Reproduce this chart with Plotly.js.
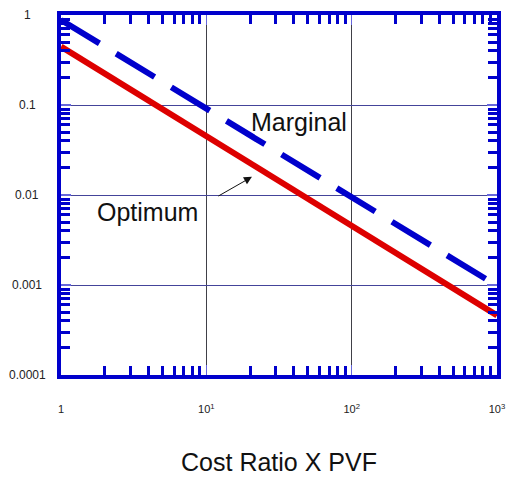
<!DOCTYPE html>
<html>
<head>
<meta charset="utf-8">
<script src="https://cdn.plot.ly/plotly-3.0.1.min.js"></script>
<style>
html,body{margin:0;padding:0;background:#fff;}
#chart{width:513px;height:481px;}
</style>
</head>
<body>
<div id="chart"></div>
<script>
const costRatio = [1, 10, 100, 1000];
const optimum = [0.445, 0.045, 0.00455, 0.00046];
const marginal = [0.88, 0.091, 0.0095, 0.00098];
const yTickVals = [1, 0.1, 0.01, 0.001, 0.0001];
const yTickText = ['1', '0.1', '0.01', '0.001', '0.0001'];
const xTickVals = [1, 10, 100, 1000];
const xTickText = ['1', '10<sup>1</sup>', '10<sup>2</sup>', '10<sup>3</sup>'];
const minorDigits = [2, 3, 4, 5, 6, 7, 8, 9];

const BLUE = '#0000cc';
const RED = '#dd0000';
const FONT = 'Liberation Sans, Arial, sans-serif';

function minorVals(decades) {
  const out = [];
  decades.forEach(d => minorDigits.forEach(k => out.push(k * d)));
  return out;
}
const xMinor = minorVals([1, 10, 100]);
const yMinor = minorVals([0.0001, 0.001, 0.01, 0.1]);

const traces = [
  {x: costRatio, y: optimum, mode: 'lines', name: 'Optimum',
   line: {color: RED, width: 6}},
  {x: costRatio, y: marginal, mode: 'lines', name: 'Marginal',
   line: {color: BLUE, width: 6, dash: '45px,19.6px'}}
];

const yAnn = yTickVals.map((v, i) => ({
  x: 0, xref: 'paper', xanchor: 'center', xshift: -34, yref: 'y', y: Math.log10(v),
  text: yTickText[i], showarrow: false, font: {family: FONT, size: 12, color: '#222'}
}));

const layout = {
  width: 513, height: 481,
  margin: {l: 61, r: 16, t: 15, b: 106},
  paper_bgcolor: '#fff', plot_bgcolor: '#fff',
  showlegend: false,
  font: {family: FONT, color: '#222'},
  xaxis: {
    type: 'log', range: [0, 3],
    tickmode: 'array', tickvals: xTickVals, ticktext: xTickText,
    tickfont: {family: FONT, size: 11, color: '#222'},
    ticks: 'inside', ticklen: 10, tickwidth: 1.5, tickcolor: '#6666dd',
    ticklabelstandoff: 21,
    showline: true, linecolor: BLUE, linewidth: 4, mirror: 'allticks',
    showgrid: true, gridcolor: '#404048', gridwidth: 1,
    zeroline: false,
    minor: {tickmode: 'array', tickvals: xMinor, ticks: 'inside', ticklen: 9, tickwidth: 3, tickcolor: BLUE, showgrid: false},
    title: {text: 'Cost Ratio X PVF', font: {family: FONT, size: 25, color: '#111'}, standoff: 40}
  },
  yaxis: {
    type: 'log', range: [-4, 0],
    tickmode: 'array', tickvals: yTickVals, showticklabels: false,
    ticks: 'inside', ticklen: 10, tickwidth: 1.5, tickcolor: '#6666dd',
    showline: true, linecolor: BLUE, linewidth: 4, mirror: 'allticks',
    showgrid: true, gridcolor: '#44449a', gridwidth: 1,
    zeroline: false,
    minor: {tickmode: 'array', tickvals: yMinor, ticks: 'inside', ticklen: 9, tickwidth: 3, tickcolor: BLUE, showgrid: false}
  },
  annotations: yAnn.concat([
    {x: Math.log10(43.3), y: Math.log10(0.065), xref: 'x', yref: 'y', text: 'Marginal',
     showarrow: false, font: {family: FONT, size: 25, color: '#111'}},
    {x: Math.log10(3.96), y: Math.log10(0.00647), xref: 'x', yref: 'y', text: 'Optimum',
     showarrow: false, font: {family: FONT, size: 25, color: '#111'}},
    {x: Math.log10(20.6), y: Math.log10(0.0159), xref: 'x', yref: 'y', text: '',
     showarrow: true, arrowhead: 2, arrowsize: 1.6, arrowwidth: 1, arrowcolor: '#111',
     ax: -35, ay: 20}
  ])
};

Plotly.newPlot('chart', traces, layout, {displayModeBar: false, staticPlot: true});
</script>
</body>
</html>
